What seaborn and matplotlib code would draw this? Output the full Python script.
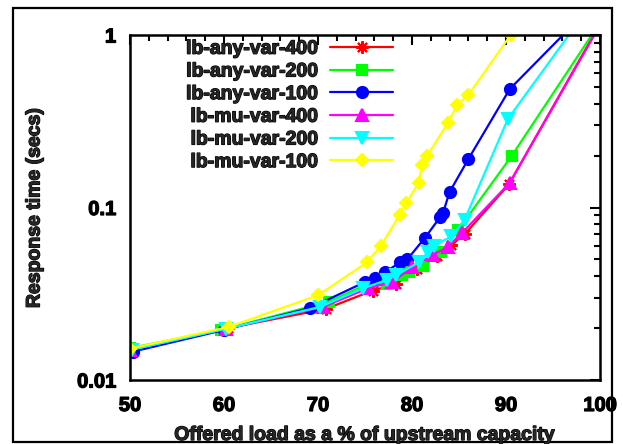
import numpy as np
import pandas as pd
import matplotlib
matplotlib.use("Agg")
import matplotlib.pyplot as plt
import matplotlib.ticker as mticker
import matplotlib.patheffects as pe
from matplotlib.patches import Rectangle
import seaborn as sns

# ---- data ----
names = ["lb-any-var-400", "lb-any-var-200", "lb-any-var-100",
         "lb-mu-var-400", "lb-mu-var-200", "lb-mu-var-100"]

x_any400 = [50, 60.4, 70.8, 75.8, 78.3, 80.5, 82.7, 84.2, 85.6, 90.3, 100]
y_any400 = [0.0150, 0.0200, 0.0258, 0.0330, 0.0360, 0.0440, 0.0520, 0.0610, 0.0700, 0.136, 1.16]

x_any200 = [50, 59.7, 71.2, 75.0, 77.3, 78.9, 79.7, 81.2, 83.1, 84.9, 90.6, 100]
y_any200 = [0.0153, 0.0195, 0.0285, 0.0355, 0.0360, 0.0405, 0.0420, 0.0460, 0.0550, 0.074, 0.199, 1.18]

x_any100 = [50.3, 60, 69.2, 75, 76.1, 77.1, 78.7, 79.5, 81.4, 83.0, 83.3, 84.0, 86.0, 90.4, 100]
y_any100 = [0.0146, 0.0195, 0.0262, 0.037, 0.039, 0.042, 0.048, 0.050, 0.067, 0.088, 0.093, 0.123, 0.191, 0.486, 1.65]

x_mu400 = [50, 60.2, 70.5, 75.3, 77.9, 80.0, 82.2, 83.8, 85.3, 90.4, 100]
y_mu400 = [0.0150, 0.0198, 0.0265, 0.034, 0.037, 0.045, 0.053, 0.059, 0.071, 0.139, 1.14]

x_mu200 = [50.2, 60.2, 70.2, 74.8, 77.3, 78.3, 80.7, 81.7, 82.3, 84.2, 85.6, 90.2, 100]
y_mu200 = [0.0150, 0.0198, 0.0265, 0.034, 0.038, 0.0405, 0.048, 0.055, 0.060, 0.068, 0.085, 0.326, 1.77]

x_mu100 = [50, 60.5, 70.0, 75.2, 76.7, 78.7, 79.4, 80.7, 81.1, 81.6, 83.8, 84.8, 86.0, 90.5]
y_mu100 = [0.0152, 0.0203, 0.031, 0.048, 0.060, 0.091, 0.106, 0.139, 0.176, 0.199, 0.308, 0.393, 0.449, 1.0]

xs = [x_any400, x_any200, x_any100, x_mu400, x_mu200, x_mu100]
ys = [y_any400, y_any200, y_any100, y_mu400, y_mu200, y_mu100]

x_ticks = [50, 60, 70, 80, 90, 100]
y_ticks = [0.01, 0.1, 1]
y_tick_labels = ["0.01", "0.1", "1"]

colors = ["#ff0000", "#00ff00", "#0000ff", "#ff00ff", "#00ffff", "#ffff00"]
markers = [(8, 2, 0), "s", "o", "^", "v", "D"]
msizes = [9, 7, 8, 8, 8, 6.5]

# ---- style ----
sns.set_style("white")
plt.rcParams["font.family"] = ["Liberation Sans", "DejaVu Sans"]
plt.rcParams["font.weight"] = "bold"
plt.rcParams["font.size"] = 14

heavy = [pe.withStroke(linewidth=0.9, foreground="black")]

fig = plt.figure(figsize=(6.23, 4.44), dpi=100)
ax = fig.add_axes([130 / 623, (444 - 380) / 444, 470 / 623, 345 / 444])

for name, xv, yv, c, m, ms in zip(names, xs, ys, colors, markers, msizes):
    df = pd.DataFrame({"x": xv, "y": yv})
    sns.lineplot(data=df, x="x", y="y", ax=ax, color=c, marker=m,
                 markersize=ms, markeredgecolor=c, markeredgewidth=1.5,
                 linewidth=1.6, sort=False, estimator=None, label=name)

ax.set_yscale("log")
ax.set_xlim(50, 100)
ax.set_ylim(0.01, 1)
ax.set_xticks(x_ticks)
ax.xaxis.set_minor_locator(mticker.MultipleLocator(2))
ax.set_yticks(y_ticks)
ax.yaxis.set_major_formatter(mticker.FixedFormatter(y_tick_labels))
ax.yaxis.set_minor_locator(mticker.LogLocator(base=10, subs=np.arange(2, 10)))
ax.yaxis.set_minor_formatter(mticker.NullFormatter())

ax.tick_params(which="both", direction="in", top=True, right=True,
               width=1.5, colors="black", labelsize=14.5)
ax.tick_params(which="major", length=7)
ax.tick_params(which="minor", length=4)
ax.tick_params(axis="y", pad=10)
ax.tick_params(axis="x", pad=11.5)
for s in ax.spines.values():
    s.set_linewidth(1.8)
    s.set_color("black")
for lab in ax.get_xticklabels() + ax.get_yticklabels():
    lab.set_path_effects(heavy)

ax.set_xlabel("")
ax.set_ylabel("")
fig.text(365 / 623, (444 - 427) / 444, "Offered load as a % of upstream capacity",
         ha="center", va="top", fontsize=14, fontweight="bold", path_effects=heavy)
fig.text(35 / 623, (444 - 208) / 444, "Response time (secs)", rotation=90,
         ha="center", va="center", fontsize=14, fontweight="bold", path_effects=heavy)

leg = ax.legend(loc="upper right", bbox_to_anchor=(0.56, 0.985),
                frameon=False, markerfirst=False, handlelength=3.25,
                handletextpad=0.6, labelspacing=0.26, borderpad=0,
                borderaxespad=0, prop={"weight": "bold", "size": 14})
for t in leg.get_texts():
    t.set_path_effects(heavy)

fig.patches.append(Rectangle((13 / 623, 2 / 444), (612 - 13) / 623, (436 - 2) / 444,
                             transform=fig.transFigure, fill=False,
                             edgecolor="black", linewidth=1.6))

fig.savefig("out.png", dpi=100)
